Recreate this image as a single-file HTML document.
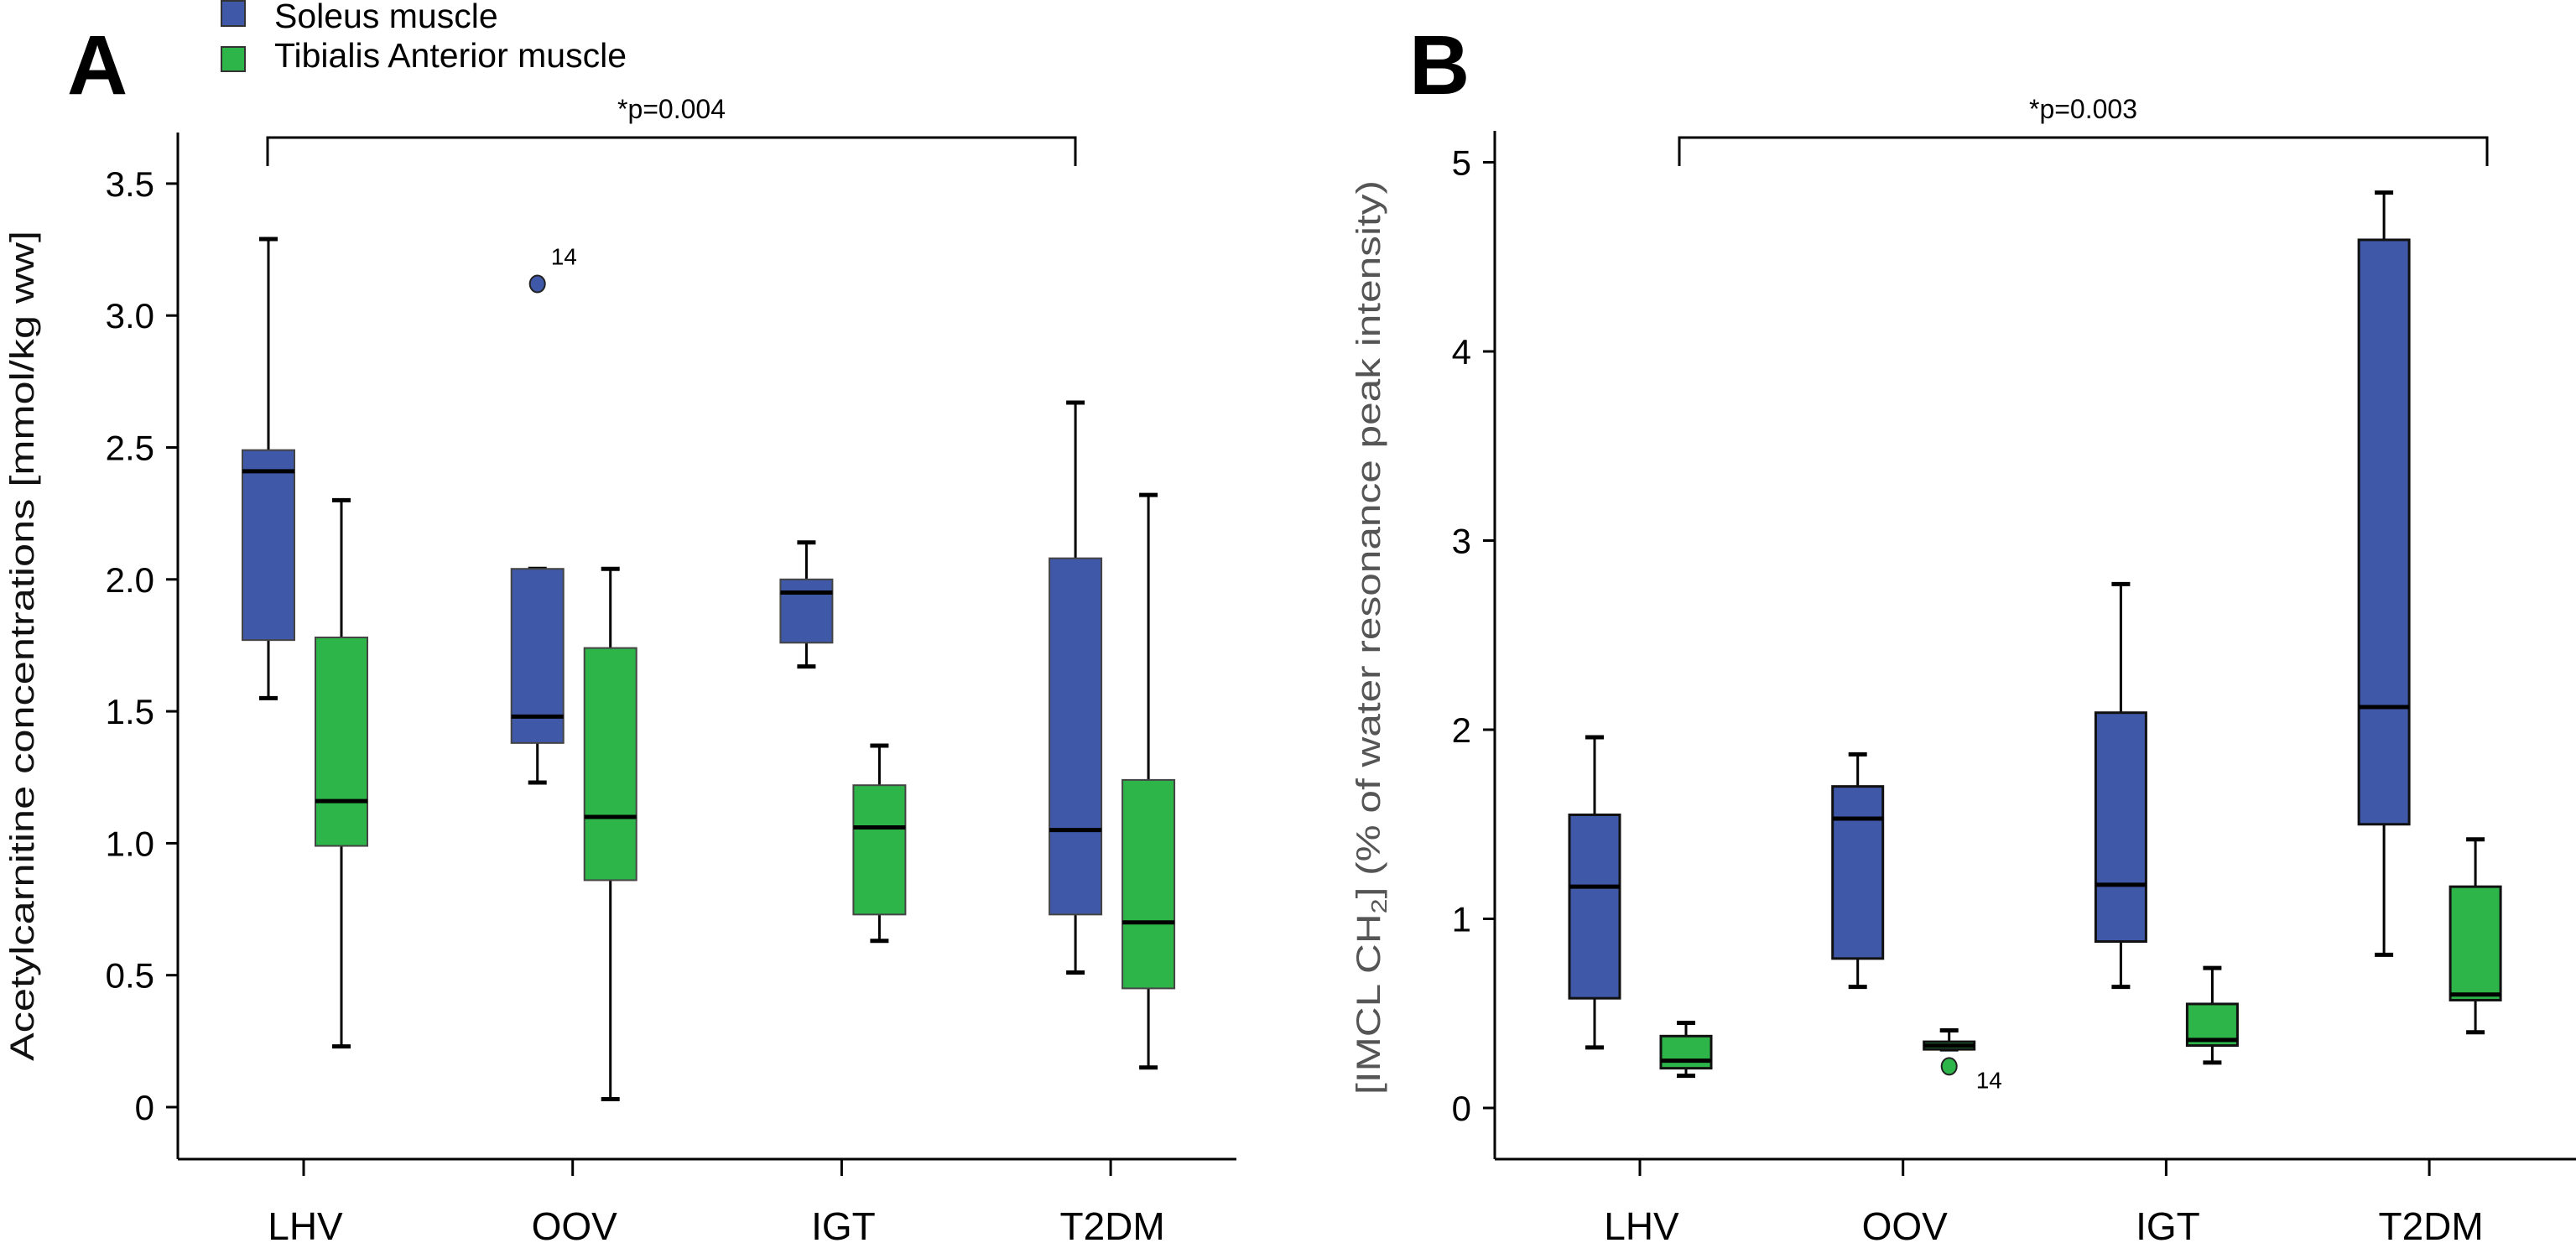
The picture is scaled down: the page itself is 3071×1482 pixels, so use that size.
<!DOCTYPE html>
<html><head><meta charset="utf-8"><style>
html,body{margin:0;padding:0;background:#fff;}
svg{display:block;font-family:"Liberation Sans",Arial,sans-serif;}
</style></head><body>
<svg id="chart" width="3071" height="1482" viewBox="0 0 3071 1482" xmlns="http://www.w3.org/2000/svg">
<g>
<rect x="264" y="1" width="28" height="30" fill="#3F58A8" stroke="#333" stroke-width="2"/>
<text x="327" y="33" font-size="41">Soleus muscle</text>
<rect x="264" y="56" width="28" height="29" fill="#2DB54A" stroke="#333" stroke-width="2"/>
<text x="327" y="80" font-size="41">Tibialis Anterior muscle</text>
</g>
<text x="80" y="112" font-size="100" font-weight="bold">A</text>
<text x="1680" y="112" font-size="100" font-weight="bold">B</text>
<g id="pa"></g>
<g id="pb"></g>
</svg>
<script>
const categories = ["LHV","OOV","IGT","T2DM"];
// Panel A: [whiskerLow, q1, median, q3, whiskerHigh]
const soleusA = [[1.55,1.77,2.41,2.49,3.29],[1.23,1.38,1.48,2.04,2.04],[1.67,1.76,1.95,2.00,2.14],[0.51,0.73,1.05,2.08,2.67]];
const tibialisA = [[0.23,0.99,1.16,1.78,2.30],[0.03,0.86,1.10,1.74,2.04],[0.63,0.73,1.06,1.22,1.37],[0.15,0.45,0.70,1.24,2.32]];
const outliersA = [{cat:1, series:"soleus", value:3.12, label:"14"}];
const ticksA = [0,0.5,1.0,1.5,2.0,2.5,3.0,3.5];
const tickLabelsA = ["0","0.5","1.0","1.5","2.0","2.5","3.0","3.5"];
// Panel B
const soleusB = [[0.32,0.58,1.17,1.55,1.96],[0.64,0.79,1.53,1.70,1.87],[0.64,0.88,1.18,2.09,2.77],[0.81,1.50,2.12,4.59,4.84]];
const tibialisB = [[0.17,0.21,0.25,0.38,0.45],[0.31,0.31,0.33,0.35,0.41],[0.24,0.33,0.36,0.55,0.74],[0.40,0.57,0.60,1.17,1.42]];
const outliersB = [{cat:1, series:"tibialis", value:0.22, label:"14"}];
const ticksB = [0,1,2,3,4,5];
const tickLabelsB = ["0","1","2","3","4","5"];

const NS="http://www.w3.org/2000/svg";
function mk(parent, tag, attrs, text){
  const e=document.createElementNS(NS,tag);
  for(const k in attrs) e.setAttribute(k, attrs[k]);
  if(text!==undefined) e.textContent=text;
  parent.appendChild(e); return e;
}
function drawPanel(g, cfg){
  const y = v => cfg.y0 - v*cfg.perUnit;
  const xc = i => cfg.x0 + i*cfg.step;
  // axes
  let ax = mk(g,'line',{x1:cfg.axX,y1:cfg.axTop,x2:cfg.axX,y2:1382,stroke:'#000','stroke-width':3});
   
  let bx = mk(g,'line',{x1:cfg.axX,y1:1382,x2:cfg.axRight,y2:1382,stroke:'#000','stroke-width':3});
   
  cfg.ticks.forEach((t,i)=>{
    const tk = mk(g,'line',{x1:cfg.axX-14,y1:y(t),x2:cfg.axX,y2:y(t),stroke:'#000','stroke-width':3});
     
    const tl = mk(g,'text',{x:cfg.axX-28,y:y(t)+15,'font-size':42,'text-anchor':'end'},cfg.tickLabels[i]);
     
  });
  categories.forEach((c,i)=>{
    const tk = mk(g,'line',{x1:xc(i),y1:1382,x2:xc(i),y2:1402,stroke:'#000','stroke-width':3});
     
    const tl = mk(g,'text',{x:xc(i)+2,y:1478,'font-size':46,'text-anchor':'middle'},c);
     
  });
  const series=[{d:cfg.soleus,off:cfg.offS,fill:'#3F58A8',name:'soleus'},{d:cfg.tib,off:cfg.offT,fill:'#2DB54A',name:'tibialis'}];
  series.forEach(s=>{
    s.d.forEach((v,i)=>{
      const cx = xc(i)+s.off, w=cfg.bw;
      const grp = mk(g,'g',{});
      
      
      mk(grp,'line',{x1:cx,y1:y(v[0]),x2:cx,y2:y(v[4]),stroke:'#000','stroke-width':3});
      mk(grp,'line',{x1:cx-11,y1:y(v[0]),x2:cx+11,y2:y(v[0]),stroke:'#000','stroke-width':5});
      mk(grp,'line',{x1:cx-11,y1:y(v[4]),x2:cx+11,y2:y(v[4]),stroke:'#000','stroke-width':5});
      mk(grp,'rect',{x:cx-w/2,y:y(v[3]),width:w,height:Math.max(1,y(v[1])-y(v[3])),fill:s.fill,stroke:cfg.boxStroke,'stroke-width':cfg.boxSW});
      mk(grp,'line',{x1:cx-w/2,y1:y(v[2]),x2:cx+w/2,y2:y(v[2]),stroke:'#000','stroke-width':5});
    });
  });
  cfg.outliers.forEach(o=>{
    const cx = xc(o.cat)+(o.series==='soleus'?cfg.offS:cfg.offT);
    const c = mk(g,'ellipse',{cx:cx,cy:y(o.value),rx:9,ry:10,fill:o.series==='soleus'?'#3F58A8':'#2DB54A',stroke:'#222','stroke-width':2});
     
    const t = mk(g,'text',{x:cx+cfg.olDx,y:y(o.value)+cfg.olDy,'font-size':28},o.label);
     
  });
  // significance bracket
  const br = mk(g,'path',{d:`M${cfg.brL},198 V164 H${cfg.brR} V198`,fill:'none',stroke:'#000','stroke-width':3});
   
  const pt = mk(g,'text',{x:(cfg.brL+cfg.brR)/2,y:141,'font-size':32,'text-anchor':'middle'},cfg.pText);
   
  const yl = mk(g,'text',{transform:`translate(${cfg.ylX},${cfg.ylY}) rotate(-90)`,'font-size':40,'text-anchor':'middle',fill:cfg.ylFill,textLength:cfg.ylLen,lengthAdjust:'spacingAndGlyphs'});
   
  if(cfg.sub){
    yl.appendChild(document.createTextNode('[IMCL CH'));
    const ts=document.createElementNS(NS,'tspan'); ts.setAttribute('font-size','26'); ts.setAttribute('dy','8'); ts.textContent='2'; yl.appendChild(ts);
    const ts2=document.createElementNS(NS,'tspan'); ts2.setAttribute('dy','-8'); ts2.textContent='] (% of water resonance peak intensity)'; yl.appendChild(ts2);
  } else yl.textContent=cfg.ylText;
}
drawPanel(document.getElementById('pa'),{y0:1320,perUnit:314.6,x0:362,step:320.7,offS:-42,offT:45,bw:62,axX:212,axTop:158,axRight:1474,
  soleus:soleusA,tib:tibialisA,outliers:outliersA,ticks:ticksA,tickLabels:tickLabelsA,boxStroke:'#444',boxSW:2,
  olDx:16,olDy:-23,brL:319,brR:1282,pText:'*p=0.004',ylX:40,ylY:770,ylLen:990,ylFill:'#111',ylText:'Acetylcarnitine concentrations [mmol/kg ww]'});
drawPanel(document.getElementById('pb'),{y0:1321,perUnit:225.5,x0:1955,step:313.7,offS:-54,offT:55,bw:60,axX:1782,axTop:156,axRight:3071,
  soleus:soleusB,tib:tibialisB,outliers:outliersB,ticks:ticksB,tickLabels:tickLabelsB,boxStroke:'#111',boxSW:3,
  olDx:32,olDy:26,brL:2002,brR:2965,pText:'*p=0.003',ylX:1645,ylY:760,ylLen:1090,ylFill:'#555',sub:true});
</script>
</body></html>
